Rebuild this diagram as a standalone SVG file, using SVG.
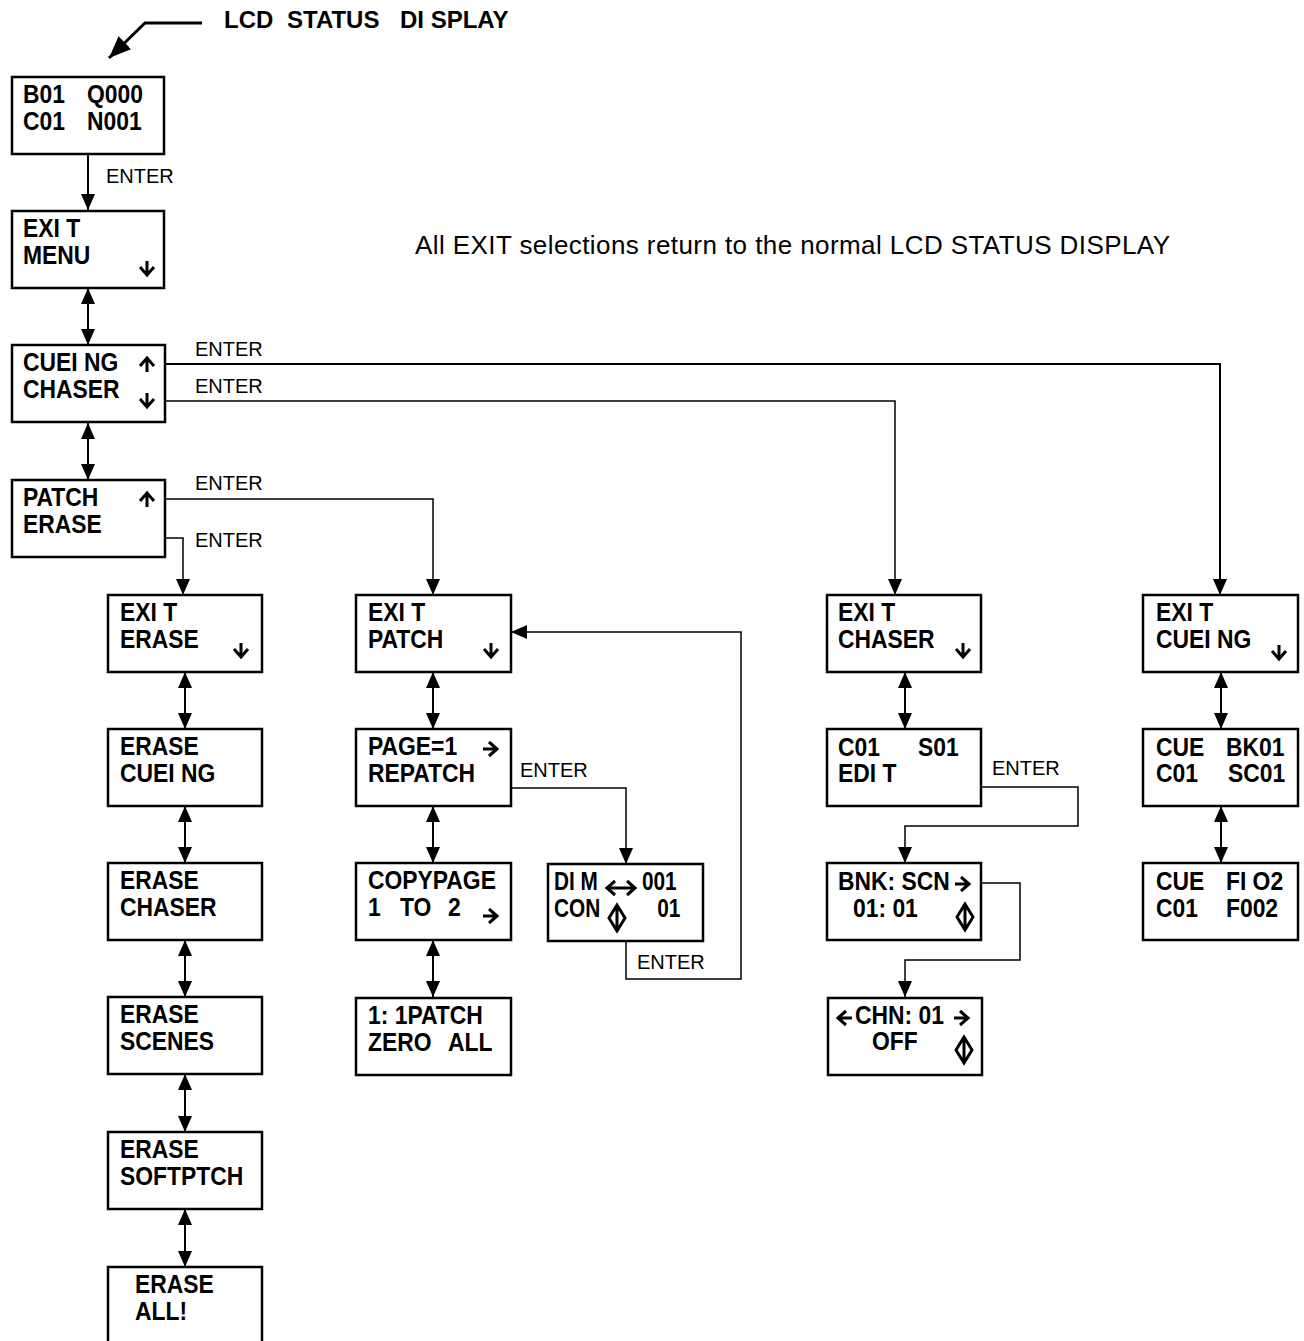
<svg xmlns="http://www.w3.org/2000/svg" xmlns:xlink="http://www.w3.org/1999/xlink" width="1304" height="1341" viewBox="0 0 1304 1341">
<style>
.box{fill:#fff;stroke:#000;stroke-width:2.5}
.lcd{font-family:"Liberation Sans",Arial,sans-serif;font-weight:bold;font-size:26px;fill:#000}
.hdr{font-family:"Liberation Sans",Arial,sans-serif;font-weight:bold;font-size:24px;fill:#000}
.lbl{font-family:"Liberation Sans",Arial,sans-serif;font-size:20px;fill:#000}
.note{font-family:"Liberation Sans",Arial,sans-serif;font-size:26px;fill:#000}
.sym{fill:none;stroke:#000;stroke-width:3}
.c{fill:none;stroke:#000;stroke-width:2}
.t{fill:none;stroke:#000;stroke-width:1.5}
</style>
<defs>
<marker id="ah" viewBox="0 0 16 14" refX="16" refY="7" markerWidth="16" markerHeight="14" markerUnits="userSpaceOnUse" orient="auto-start-reverse"><path d="M0,0 L16,7 L0,14 Z" fill="#000"/></marker>
<marker id="big" viewBox="0 0 22 18" refX="22" refY="9" markerWidth="22" markerHeight="18" markerUnits="userSpaceOnUse" orient="auto"><path d="M0,0 L22,9 L0,18 Z" fill="#000"/></marker>
<path id="dn" d="M0,-7 V7 M-7,-1 L0,7 L7,-1"/>
<path id="rt" d="M-7,0 H7 M-1,-7 L7,0 L-1,7"/>
<path id="lr" d="M-6,-7 L-14,0 L-6,7 M6,-7 L14,0 L6,7 M-14,0 H14"/>
<path id="ud" d="M0,-13 L-8,0 L0,13 L8,0 Z M0,-13 V13"/>
</defs>
<rect width="1304" height="1341" fill="#fff"/>

<g id="header">
<text class="hdr" x="224" y="28">LCD <tspan x="287">STATUS </tspan><tspan x="400">DI SPLAY</tspan></text>
<path d="M202,23 H145 L109,58" fill="none" stroke="#000" stroke-width="3" marker-end="url(#big)"/>
</g>
<text class="note" x="415" y="254" textLength="755" lengthAdjust="spacing">All EXIT selections return to the normal LCD STATUS DISPLAY</text>

<g id="connectors">
<path class="c" d="M88,154 V210" marker-end="url(#ah)"/>
<path class="c" d="M88,288 V345" marker-start="url(#ah)" marker-end="url(#ah)"/>
<path class="c" d="M88,423 V480" marker-start="url(#ah)" marker-end="url(#ah)"/>
<path class="c" d="M165,364 H1220 V595" marker-end="url(#ah)"/>
<path class="t" d="M165,401 H895 V595" marker-end="url(#ah)"/>
<path class="t" d="M165,499 H433 V595" marker-end="url(#ah)"/>
<path class="t" d="M165,538 H183 V595" marker-end="url(#ah)"/>
<path class="c" d="M185,672 V729" marker-start="url(#ah)" marker-end="url(#ah)"/>
<path class="c" d="M185,806 V863" marker-start="url(#ah)" marker-end="url(#ah)"/>
<path class="c" d="M185,940 V997" marker-start="url(#ah)" marker-end="url(#ah)"/>
<path class="c" d="M185,1074 V1132" marker-start="url(#ah)" marker-end="url(#ah)"/>
<path class="c" d="M185,1209 V1267" marker-start="url(#ah)" marker-end="url(#ah)"/>
<path class="c" d="M433,672 V729" marker-start="url(#ah)" marker-end="url(#ah)"/>
<path class="c" d="M433,806 V863" marker-start="url(#ah)" marker-end="url(#ah)"/>
<path class="c" d="M433,940 V997" marker-start="url(#ah)" marker-end="url(#ah)"/>
<path class="c" d="M905,672 V729" marker-start="url(#ah)" marker-end="url(#ah)"/>
<path class="c" d="M1221,672 V729" marker-start="url(#ah)" marker-end="url(#ah)"/>
<path class="c" d="M1221,806 V863" marker-start="url(#ah)" marker-end="url(#ah)"/>
<path class="t" d="M490,788 H626 V864" marker-end="url(#ah)"/>
<path class="t" d="M626,941 V979 H741 V632 H511" marker-end="url(#ah)"/>
<path class="t" d="M924,787 H1078 V826 H905 V863" marker-end="url(#ah)"/>
<path class="t" d="M981,883 H1020 V960 H905 V997" marker-end="url(#ah)"/>
<text class="lbl" x="106" y="183">ENTER</text>
<text class="lbl" x="195" y="356">ENTER</text>
<text class="lbl" x="195" y="393">ENTER</text>
<text class="lbl" x="195" y="490">ENTER</text>
<text class="lbl" x="195" y="547">ENTER</text>
<text class="lbl" x="520" y="777">ENTER</text>
<text class="lbl" x="637" y="969">ENTER</text>
<text class="lbl" x="992" y="775">ENTER</text>
</g>

<g id="status"><rect class="box" x="12" y="77" width="152" height="77"/>
<text class="lcd" transform="translate(23 103) scale(.88 1)">B01 <tspan x="72.7">Q000</tspan></text>
<text class="lcd" transform="translate(23 130) scale(.88 1)">C01 <tspan x="72.7">N001</tspan></text></g>

<g id="exit-menu"><rect class="box" x="12" y="211" width="152" height="77"/>
<text class="lcd" transform="translate(23 237) scale(.88 1)">EXI T</text>
<text class="lcd" transform="translate(23 264) scale(.88 1)">MENU</text>
<use xlink:href="#dn" class="sym" x="147" y="268"/></g>

<g id="cueing-chaser"><rect class="box" x="12" y="345" width="153" height="77"/>
<text class="lcd" transform="translate(23 371) scale(.88 1)">CUEI NG</text>
<text class="lcd" transform="translate(23 398) scale(.88 1)">CHASER</text>
<use xlink:href="#dn" class="sym" transform="translate(147 365) rotate(180)"/>
<use xlink:href="#dn" class="sym" x="147" y="400"/></g>

<g id="patch-erase"><rect class="box" x="12" y="480" width="153" height="77"/>
<text class="lcd" transform="translate(23 506) scale(.88 1)">PATCH</text>
<text class="lcd" transform="translate(23 533) scale(.88 1)">ERASE</text>
<use xlink:href="#dn" class="sym" transform="translate(147 500) rotate(180)"/></g>

<g id="exit-erase"><rect class="box" x="108" y="595" width="154" height="77"/>
<text class="lcd" transform="translate(120 621) scale(.88 1)">EXI T</text>
<text class="lcd" transform="translate(120 648) scale(.88 1)">ERASE</text>
<use xlink:href="#dn" class="sym" x="241" y="650"/></g>

<g id="erase-cueing"><rect class="box" x="108" y="729" width="154" height="77"/>
<text class="lcd" transform="translate(120 755) scale(.88 1)">ERASE</text>
<text class="lcd" transform="translate(120 782) scale(.88 1)">CUEI NG</text></g>

<g id="erase-chaser"><rect class="box" x="108" y="863" width="154" height="77"/>
<text class="lcd" transform="translate(120 889) scale(.88 1)">ERASE</text>
<text class="lcd" transform="translate(120 916) scale(.88 1)">CHASER</text></g>

<g id="erase-scenes"><rect class="box" x="108" y="997" width="154" height="77"/>
<text class="lcd" transform="translate(120 1023) scale(.88 1)">ERASE</text>
<text class="lcd" transform="translate(120 1050) scale(.88 1)">SCENES</text></g>

<g id="erase-softptch"><rect class="box" x="108" y="1132" width="154" height="77"/>
<text class="lcd" transform="translate(120 1158) scale(.88 1)">ERASE</text>
<text class="lcd" transform="translate(120 1185) scale(.88 1)">SOFTPTCH</text></g>

<g id="erase-all"><rect class="box" x="108" y="1267" width="154" height="80"/>
<text class="lcd" transform="translate(135 1293) scale(.88 1)">ERASE</text>
<text class="lcd" transform="translate(135 1320) scale(.88 1)">ALL!</text></g>

<g id="exit-patch"><rect class="box" x="356" y="595" width="155" height="77"/>
<text class="lcd" transform="translate(368 621) scale(.88 1)">EXI T</text>
<text class="lcd" transform="translate(368 648) scale(.88 1)">PATCH</text>
<use xlink:href="#dn" class="sym" x="491" y="650"/></g>

<g id="page-repatch"><rect class="box" x="356" y="729" width="155" height="77"/>
<text class="lcd" transform="translate(368 755) scale(.88 1)">PAGE=1</text>
<text class="lcd" transform="translate(368 782) scale(.88 1)">REPATCH</text>
<use xlink:href="#rt" class="sym" x="490" y="749"/></g>

<g id="copypage"><rect class="box" x="356" y="863" width="155" height="77"/>
<text class="lcd" transform="translate(368 889) scale(.88 1)">COPYPAGE</text>
<text class="lcd" transform="translate(368 916) scale(.88 1)">1 <tspan x="36.4">TO </tspan><tspan x="90.9">2</tspan></text>
<use xlink:href="#rt" class="sym" x="490" y="916"/></g>

<g id="one-to-one-patch"><rect class="box" x="356" y="998" width="155" height="77"/>
<text class="lcd" transform="translate(368 1024) scale(.88 1)">1: 1PATCH</text>
<text class="lcd" transform="translate(368 1051) scale(.88 1)">ZERO <tspan x="90.9">ALL</tspan></text></g>

<g id="dim-con"><rect class="box" x="548" y="864" width="155" height="77"/>
<text class="lcd" transform="translate(554 890) scale(.8 1)">DI M <tspan x="110">001</tspan></text>
<text class="lcd" transform="translate(554 917) scale(.8 1)">CON <tspan x="129">01</tspan></text>
<use xlink:href="#lr" class="sym" x="621" y="888"/>
<use xlink:href="#ud" class="sym" x="617" y="918"/></g>

<g id="exit-chaser"><rect class="box" x="827" y="595" width="154" height="77"/>
<text class="lcd" transform="translate(838 621) scale(.88 1)">EXI T</text>
<text class="lcd" transform="translate(838 648) scale(.88 1)">CHASER</text>
<use xlink:href="#dn" class="sym" x="963" y="650"/></g>

<g id="chaser-edit"><rect class="box" x="827" y="729" width="154" height="77"/>
<text class="lcd" transform="translate(838 756) scale(.88 1)">C01 <tspan x="90.9">S01</tspan></text>
<text class="lcd" transform="translate(838 782) scale(.88 1)">EDI T</text></g>

<g id="bank-scene"><rect class="box" x="827" y="863" width="154" height="77"/>
<text class="lcd" transform="translate(838 890) scale(.88 1)">BNK: SCN</text>
<text class="lcd" transform="translate(853 917) scale(.88 1)">01: 01</text>
<use xlink:href="#rt" class="sym" x="962" y="884"/>
<use xlink:href="#ud" class="sym" x="965" y="917"/></g>

<g id="channel-off"><rect class="box" x="828" y="998" width="154" height="77"/>
<text class="lcd" transform="translate(855 1024) scale(.88 1)">CHN: 01</text>
<text class="lcd" transform="translate(872 1050) scale(.88 1)">OFF</text>
<use xlink:href="#rt" class="sym" transform="translate(845 1018) rotate(180)"/>
<use xlink:href="#rt" class="sym" x="961" y="1018"/>
<use xlink:href="#ud" class="sym" x="964" y="1050"/></g>

<g id="exit-cueing"><rect class="box" x="1143" y="595" width="155" height="77"/>
<text class="lcd" transform="translate(1156 621) scale(.88 1)">EXI T</text>
<text class="lcd" transform="translate(1156 648) scale(.88 1)">CUEI NG</text>
<use xlink:href="#dn" class="sym" x="1279" y="652"/></g>

<g id="cue-bank"><rect class="box" x="1143" y="729" width="155" height="77"/>
<text class="lcd" transform="translate(1156 756) scale(.88 1)">CUE <tspan x="79.5">BK01</tspan></text>
<text class="lcd" transform="translate(1156 782) scale(.88 1)">C01 <tspan x="81.8">SC01</tspan></text></g>

<g id="cue-fade"><rect class="box" x="1143" y="863" width="155" height="77"/>
<text class="lcd" transform="translate(1156 890) scale(.88 1)">CUE <tspan x="79.5">FI O2</tspan></text>
<text class="lcd" transform="translate(1156 917) scale(.88 1)">C01 <tspan x="79.5">F002</tspan></text></g>
</svg>
